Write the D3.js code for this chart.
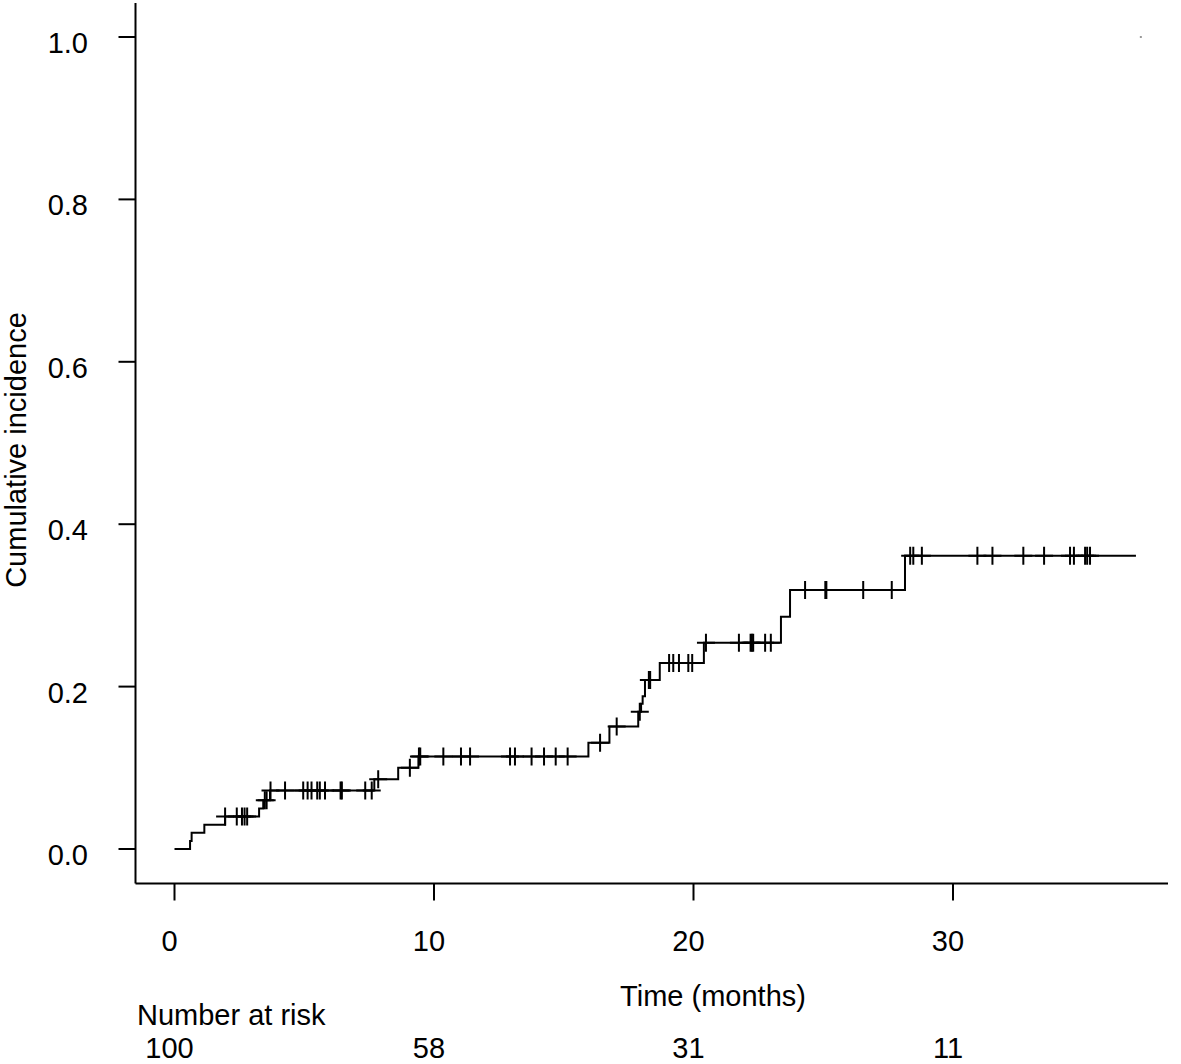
<!DOCTYPE html>
<html>
<head>
<meta charset="utf-8">
<script src="https://cdn.jsdelivr.net/npm/d3@7"></script>
<style>
  html, body { margin: 0; padding: 0; background: #fff; }
  svg { display: block; }
  text { font-family: "Liberation Sans", Arial, Helvetica, sans-serif; fill: #000; }
</style>
</head>
<body>
<script>
// ---- data ----
const eventTimes  = [0, 0.6, 0.66, 1.15, 1.95, 3.26, 3.42, 3.68, 7.7, 8.62, 9.4, 15.95, 16.76, 17.87, 17.98, 18.04, 18.13, 18.7, 20.4, 23.37, 23.72, 28.15];
const eventLevels = [0, 0.01, 0.02, 0.03, 0.04, 0.05, 0.06, 0.072, 0.086, 0.10, 0.114, 0.131, 0.151, 0.169, 0.179, 0.188, 0.208, 0.229, 0.254, 0.286, 0.319, 0.361];
const endTime = 37.05;
const censorTimes = [1.95, 2.4, 2.6, 2.7, 2.8,
  3.48, 3.55,
  3.7, 4.26, 4.96, 5.13, 5.28, 5.5, 5.6, 5.8, 6.4, 6.45, 7.35, 7.6,
  7.85,
  9.07,
  9.42, 9.47, 10.36, 11.04, 11.39, 12.93, 13.12, 13.76, 14.24, 14.69, 15.15,
  16.4, 17.04, 17.93, 18.28, 18.33,
  19.06, 19.22, 19.44, 19.8, 19.95,
  20.48, 21.75, 22.2, 22.25, 22.3, 22.76, 22.98,
  24.3, 25.08, 25.12, 26.54, 27.64,
  28.35, 28.47, 28.8, 30.94, 31.52, 32.71, 33.51, 34.51, 34.66, 35.09, 35.17, 35.28];
const xTicks = [0, 10, 20, 30];
const yTicks = [0, 0.2, 0.4, 0.6, 0.8, 1.0];
const riskTimes = [0, 10, 20, 30];
const riskCounts = [100, 58, 31, 11];
const xLabel = "Time (months)";
const yLabel = "Cumulative incidence";
const riskTitle = "Number at risk";

// ---- layout ----
const W = 1181, H = 1064;
const FS = 29;
const x = d3.scaleLinear().domain([0, 30]).range([174.5, 953]);
const y = d3.scaleLinear().domain([0, 1]).range([849, 37]);
const axisY = 883.5, axisX = 135.5;
const xAxisEnd = 1168, yAxisTop = 3;

const svg = d3.select("body").append("svg").attr("width", W).attr("height", H);

// axes lines
svg.append("line").attr("x1", axisX).attr("x2", xAxisEnd).attr("y1", axisY).attr("y2", axisY)
  .attr("stroke", "#000").attr("stroke-width", 2);
svg.append("line").attr("x1", axisX).attr("x2", axisX).attr("y1", yAxisTop).attr("y2", axisY)
  .attr("stroke", "#000").attr("stroke-width", 2);

// x ticks
const xt = svg.append("g");
xt.selectAll("line").data(xTicks).join("line")
  .attr("x1", d => x(d)).attr("x2", d => x(d)).attr("y1", axisY).attr("y2", axisY + 17)
  .attr("stroke", "#000").attr("stroke-width", 2);
xt.selectAll("text").data(xTicks).join("text")
  .attr("x", d => x(d) - 5).attr("y", 951).attr("text-anchor", "middle")
  .attr("font-size", FS).text(d => d);

// y ticks
const yt = svg.append("g");
yt.selectAll("line").data(yTicks).join("line")
  .attr("x1", axisX - 17).attr("x2", axisX).attr("y1", d => y(d)).attr("y2", d => y(d))
  .attr("stroke", "#000").attr("stroke-width", 2);
yt.selectAll("text").data(yTicks).join("text")
  .attr("x", 88).attr("y", d => y(d) + 16).attr("text-anchor", "end")
  .attr("font-size", FS).text(d => d3.format(".1f")(d));

// axis labels
svg.append("text").attr("x", 713).attr("y", 1006).attr("text-anchor", "middle")
  .attr("font-size", FS).text(xLabel);
svg.append("text").attr("transform", "translate(26,450) rotate(-90)").attr("text-anchor", "middle")
  .attr("font-size", FS).text(yLabel);

// number at risk
svg.append("text").attr("x", 137).attr("y", 1025).attr("font-size", FS).text(riskTitle);
svg.append("g").selectAll("text").data(riskTimes).join("text")
  .attr("x", (d) => x(d) - 5).attr("y", 1058).attr("text-anchor", "middle")
  .attr("font-size", FS).text((d, i) => riskCounts[i]);

// step curve
const pts = eventTimes.map((t, i) => [t, eventLevels[i]]);
pts.push([endTime, eventLevels[eventLevels.length - 1]]);
const line = d3.line().x(d => x(d[0])).y(d => y(d[1])).curve(d3.curveStepAfter);
svg.append("path").attr("d", line(pts)).attr("fill", "none")
  .attr("stroke", "#000").attr("stroke-width", 2);

// censor marks (+)
const levelAt = t => {
  let lv = 0;
  for (let i = 0; i < eventTimes.length; i++) if (eventTimes[i] <= t) lv = eventLevels[i];
  return lv;
};
const cs = 9;
svg.append("g").selectAll("path").data(censorTimes).join("path")
  .attr("d", t => {
    const cx = x(t), cy = y(levelAt(t));
    return `M${cx - cs},${cy}H${cx + cs}M${cx},${cy - cs}V${cy + cs}`;
  })
  .attr("fill", "none").attr("stroke", "#000").attr("stroke-width", 2);

// tiny grey artifact near top right
svg.append("rect").attr("x", x(37.2)).attr("y", y(1.0) - 1).attr("width", 2).attr("height", 2).attr("fill", "#999");
</script>
</body>
</html>
